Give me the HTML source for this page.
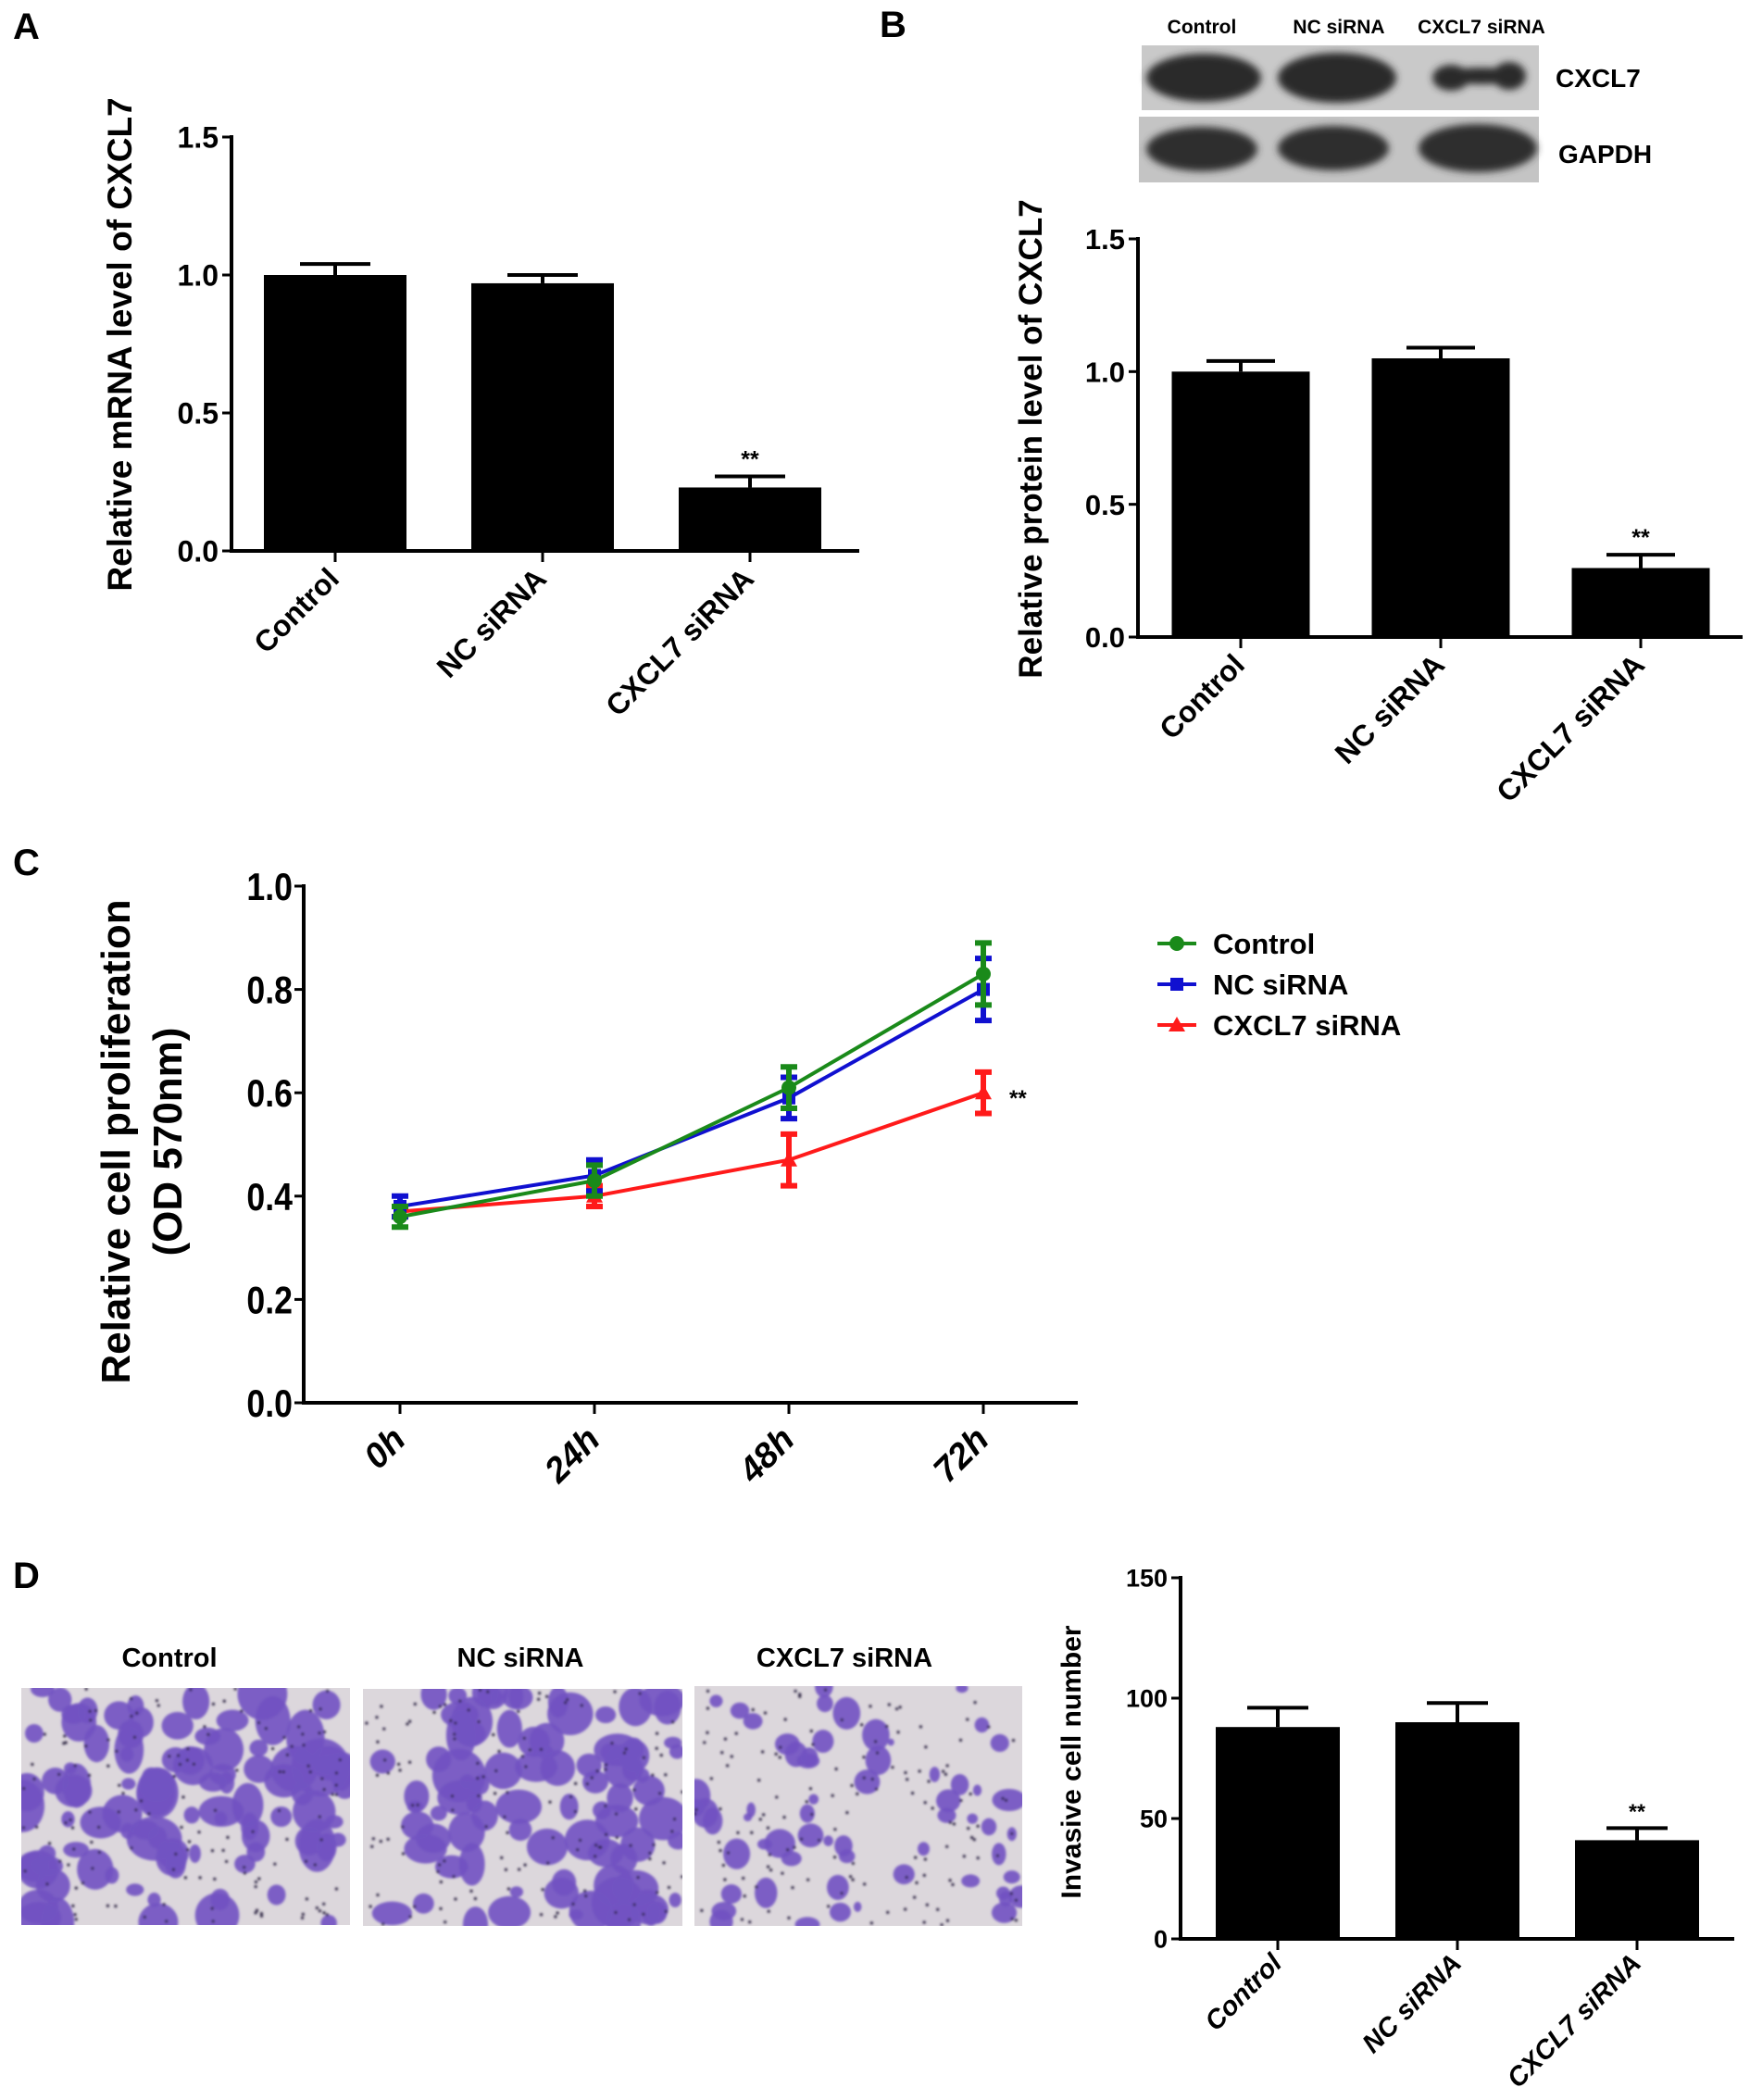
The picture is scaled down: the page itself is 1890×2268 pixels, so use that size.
<!DOCTYPE html>
<html><head><meta charset="utf-8"><style>
html,body{margin:0;padding:0;background:#fff}
svg{display:block}
text{font-family:"Liberation Sans",sans-serif;font-weight:bold;fill:#000}
</style></head><body>
<svg id="fig" width="1890" height="2268" viewBox="0 0 1890 2268" xmlns="http://www.w3.org/2000/svg">
<defs>
<filter id="blur3"><feGaussianBlur stdDeviation="4"/></filter>
<filter id="blur1"><feGaussianBlur stdDeviation="1.2"/></filter>
</defs>
<text x="14" y="42" font-size="40">A</text>
<text x="950" y="40" font-size="40">B</text>
<text x="14" y="945" font-size="40">C</text>
<text x="14" y="1715" font-size="40">D</text>

<g id="blot">
<rect x="1233" y="49" width="429" height="70" fill="#c9c9c9"/>
<rect x="1230" y="126" width="432" height="71" fill="#c4c4c4"/>
<g filter="url(#blur3)">
<ellipse cx="1300" cy="84" rx="62" ry="26" fill="#2b2b2b"/>
<ellipse cx="1444" cy="84" rx="64" ry="27" fill="#2b2b2b"/>
<ellipse cx="1567" cy="84" rx="20" ry="14" fill="#2b2b2b"/>
<ellipse cx="1600" cy="82" rx="40" ry="9" fill="#2b2b2b"/>
<ellipse cx="1630" cy="82" rx="18" ry="15" fill="#2b2b2b"/>
<ellipse cx="1298" cy="161" rx="60" ry="24" fill="#2e2e2e"/>
<ellipse cx="1440" cy="160" rx="60" ry="24" fill="#2e2e2e"/>
<ellipse cx="1596" cy="160" rx="64" ry="26" fill="#2e2e2e"/>
</g>
<text x="1298" y="36" font-size="21" text-anchor="middle">Control</text>
<text x="1446" y="36" font-size="21" text-anchor="middle">NC  siRNA</text>
<text x="1600" y="36" font-size="21" text-anchor="middle">CXCL7 siRNA</text>
<text x="1680" y="94" font-size="28">CXCL7</text>
<text x="1683" y="176" font-size="28">GAPDH</text>
</g>

<g id="micro">
<text x="183" y="1800" font-size="29" text-anchor="middle">Control</text>
<text x="562" y="1800" font-size="29" text-anchor="middle">NC siRNA</text>
<text x="912" y="1800" font-size="29" text-anchor="middle">CXCL7 siRNA</text>
</g>
</svg>
<script>
// ---------- Panel A data ----------
const catsA = ["Control", "NC siRNA", "CXCL7 siRNA"];
const valsA = [1.00, 0.97, 0.23];
const errA = [0.04, 0.03, 0.04];
const ticksA = ["0.0", "0.5", "1.0", "1.5"];
// ---------- Panel B data ----------
const catsB = ["Control", "NC siRNA", "CXCL7 siRNA"];
const valsB = [1.00, 1.05, 0.26];
const errB = [0.04, 0.04, 0.05];
const ticksB = ["0.0", "0.5", "1.0", "1.5"];
// ---------- Panel C data ----------
const timesC = ["0h", "24h", "48h", "72h"];
const seriesNames = ["Control", "NC siRNA", "CXCL7 siRNA"];
const ctrlC = [0.36, 0.43, 0.61, 0.83];
const ctrlErrC = [0.02, 0.03, 0.04, 0.06];
const ncC = [0.38, 0.44, 0.59, 0.80];
const ncErrC = [0.02, 0.03, 0.04, 0.06];
const kdC = [0.37, 0.40, 0.47, 0.60];
const kdErrC = [0.01, 0.02, 0.05, 0.04];
const ticksC = ["0.0", "0.2", "0.4", "0.6", "0.8", "1.0"];
// ---------- Panel D data ----------
const catsD = ["Control", "NC siRNA", "CXCL7 siRNA"];
const valsD = [88, 90, 41];
const errD = [8, 8, 5];
const ticksD = ["0", "50", "100", "150"];

const NS = "http://www.w3.org/2000/svg";
const svg = document.getElementById("fig");
function mk(tag, attrs, parent) {
  const e = document.createElementNS(NS, tag);
  for (const k in attrs) e.setAttribute(k, attrs[k]);
  (parent || svg).appendChild(e);
  return e;
}

function barChart(o) {
  const g = mk("g", {});
  
  
  const y = v => o.y0 - (v - o.vmin) / (o.vmax - o.vmin) * (o.y0 - o.y1);
  const n = o.cats.length;
  o.vals.forEach((v, i) => {
    const cx = o.barX[0] + i * o.barStep;
    const top = y(v);
    const r = mk("rect", {x: cx - o.barW / 2, y: top, width: o.barW, height: o.y0 - top, fill: "#000"}, g);
    
    
    const et = y(v + o.errs[i]);
    const l = mk("line", {x1: cx, x2: cx, y1: top, y2: et, stroke: "#000", "stroke-width": o.sw}, g);
    
    
    const c = mk("line", {x1: cx - o.capW / 2, x2: cx + o.capW / 2, y1: et, y2: et, stroke: "#000", "stroke-width": o.sw}, g);
    
    
    if (i === n - 1) {
      const s = mk("text", {x: cx, y: et - 10, "font-size": o.starSize, "text-anchor": "middle", "font-weight": "normal"}, g);
      s.textContent = "**";
      
      
    }
    const t = mk("line", {x1: cx, x2: cx, y1: o.y0, y2: o.y0 + 12, stroke: "#000", "stroke-width": o.sw - 1}, g);
    
    
    const lx = cx + 6, ly = o.y0 + o.labOff;
    const tx = mk("text", {x: lx, y: ly, "font-size": o.catSize, "text-anchor": "end", transform: `rotate(-45 ${lx} ${ly})`, "font-style": o.italic ? "italic" : "normal"}, g);
    tx.textContent = o.cats[i];
    
    
  });
  const ya = mk("line", {x1: o.x0, x2: o.x0, y1: o.y1 - 2, y2: o.y0 + 2, stroke: "#000", "stroke-width": o.sw}, g);
  
  
  const xa = mk("line", {x1: o.x0 - 2, x2: o.xEnd, y1: o.y0, y2: o.y0, stroke: "#000", "stroke-width": o.sw}, g);
  
  
  o.ticks.forEach(tk => {
    const yy = y(parseFloat(tk));
    const l = mk("line", {x1: o.x0 - 10, x2: o.x0, y1: yy, y2: yy, stroke: "#000", "stroke-width": o.sw - 1}, g);
    
    
    const t = mk("text", {x: o.x0 - 14, y: yy + o.tickSize * 0.36, "font-size": o.tickSize, "text-anchor": "end"}, g);
    t.textContent = tk;
    
    
  });
  const tt = mk("text", {x: o.titleX, y: o.titleY, "font-size": o.titleSize, "text-anchor": "middle", transform: `rotate(-90 ${o.titleX} ${o.titleY})`}, g);
  tt.textContent = o.title;
  
  
}

barChart({name: "chart-a-mrna", cats: catsA, vals: valsA, errs: errA, ticks: ticksA, vmin: 0, vmax: 1.5,
  x0: 250, xEnd: 928, y0: 595, y1: 148, barX: [362], barStep: 224, barW: 154, capW: 76, sw: 4,
  tickSize: 32, catSize: 32, labOff: 32, starSize: 25, title: "Relative mRNA level of CXCL7", titleX: 142, titleY: 372, titleSize: 37});
barChart({name: "chart-b-protein", cats: catsB, vals: valsB, errs: errB, ticks: ticksB, vmin: 0, vmax: 1.5,
  x0: 1229, xEnd: 1882, y0: 688, y1: 258, barX: [1340], barStep: 216, barW: 149, capW: 74, sw: 4,
  tickSize: 31, catSize: 32, labOff: 32, starSize: 25, title: "Relative protein level of CXCL7", titleX: 1125, titleY: 474, titleSize: 35});
barChart({name: "chart-d-invasion", cats: catsD, vals: valsD, errs: errD, ticks: ticksD, vmin: 0, vmax: 150,
  x0: 1275, xEnd: 1873, y0: 2094, y1: 1704, barX: [1380], barStep: 194, barW: 134, capW: 66, sw: 4,
  tickSize: 27, catSize: 29, labOff: 28, starSize: 23, italic: true, title: "Invasive cell number", titleX: 1167, titleY: 1903, titleSize: 30});

// ---------- Panel C line chart ----------
(function () {
  const g = mk("g", {});
  
  
  const x0 = 328, y0 = 1515, y1 = 957, xs0 = 432, xStep = 210;
  const y = v => y0 - v * (y0 - y1);
  const x = i => xs0 + i * xStep;
  const ya = mk("line", {x1: x0, x2: x0, y1: y1 - 2, y2: y0 + 2, stroke: "#000", "stroke-width": 4}, g);
  
  
  const xa = mk("line", {x1: x0 - 2, x2: 1164, y1: y0, y2: y0, stroke: "#000", "stroke-width": 4}, g);
  
  
  ticksC.forEach(tk => {
    const yy = y(parseFloat(tk));
    const l = mk("line", {x1: x0 - 10, x2: x0, y1: yy, y2: yy, stroke: "#000", "stroke-width": 3}, g);
    
    
    const t = mk("text", {x: x0 - 12, y: yy + 15, "font-size": 42, "text-anchor": "end", transform: `translate(${x0 - 12} 0) scale(0.85 1) translate(${-(x0 - 12)} 0)`}, g);
    t.textContent = tk;
    
    
  });
  timesC.forEach((tm, i) => {
    const l = mk("line", {x1: x(i), x2: x(i), y1: y0, y2: y0 + 12, stroke: "#000", "stroke-width": 3}, g);
    
    
    const lx = x(i) + 8, ly = y0 + 42;
    const t = mk("text", {x: lx, y: ly, "font-size": 38, "font-style": "italic", "text-anchor": "end", transform: `rotate(-45 ${lx} ${ly})`}, g);
    t.textContent = tm;
    
    
  });
  const t1 = mk("text", {x: 140, y: 1233, "font-size": 44, "text-anchor": "middle", transform: "rotate(-90 140 1233)"}, g);
  t1.textContent = "Relative cell proliferation";
  
  
  const t2 = mk("text", {x: 196, y: 1233, "font-size": 44, "text-anchor": "middle", transform: "rotate(-90 196 1233)"}, g);
  t2.textContent = "(OD 570nm)";
  
  

  const series = [
    {vals: kdC, errs: kdErrC, color: "#ff1a1a", marker: "tri", name: seriesNames[2]},
    {vals: ncC, errs: ncErrC, color: "#1010d0", marker: "sq", name: seriesNames[1]},
    {vals: ctrlC, errs: ctrlErrC, color: "#1a8a1a", marker: "circ", name: seriesNames[0]}
  ];
  function marker(type, cx, cy, color, parent) {
    let m;
    if (type === "circ") m = mk("circle", {cx: cx, cy: cy, r: 8, fill: color}, parent);
    else if (type === "sq") m = mk("rect", {x: cx - 7, y: cy - 7, width: 14, height: 14, fill: color}, parent);
    else m = mk("polygon", {points: `${cx},${cy - 9} ${cx + 9},${cy + 7} ${cx - 9},${cy + 7}`, fill: color}, parent);
    return m;
  }
  series.forEach(s => {
    const sg = mk("g", {}, g);
    
    
    const pts = s.vals.map((v, i) => `${x(i)},${y(v)}`).join(" ");
    const pl = mk("polyline", {points: pts, fill: "none", stroke: s.color, "stroke-width": 4}, sg);
    
    
    s.vals.forEach((v, i) => {
      const hi = y(v + s.errs[i]), lo = y(v - s.errs[i]);
      const e = mk("path", {d: `M${x(i)},${hi}V${lo}M${x(i) - 9},${hi}H${x(i) + 9}M${x(i) - 9},${lo}H${x(i) + 9}`, stroke: s.color, "stroke-width": 6, fill: "none"}, sg);
      
      
      const m = marker(s.marker, x(i), y(v), s.color, sg);
      
      
    });
  });
  const st = mk("text", {x: 1090, y: y(kdC[3]) + 14, "font-size": 24, "font-weight": "normal"}, g);
  st.textContent = "**";
  
  
  const lg = mk("g", {}, g);
  
  
  [series[2], series[1], series[0]].forEach((s, k) => {
    const ly = 1019 + k * 44;
    const ln = mk("line", {x1: 1250, x2: 1292, y1: ly, y2: ly, stroke: s.color, "stroke-width": 4}, lg);
    
    
    const m = marker(s.marker, 1271, ly, s.color, lg);
    
    
    const t = mk("text", {x: 1310, y: ly + 11, "font-size": 31}, lg);
    t.textContent = s.name;
    
    
  });
})();

// ---------- Micrographs (decorative texture) ----------
(function () {
  const mg = document.getElementById("micro");
  const panels = [
    {x: 23, y: 1823, w: 355, h: 256, n: 95, big: 1.3, name: "micrograph-control"},
    {x: 392, y: 1824, w: 345, h: 256, n: 85, big: 1.2, name: "micrograph-nc-sirna"},
    {x: 750, y: 1821, w: 354, h: 259, n: 60, big: 0.8, name: "micrograph-cxcl7-sirna"}
  ];
  let seed = 12345;
  const rnd = () => { seed = (seed * 16807) % 2147483647; return seed / 2147483647; };
  panels.forEach(p => {
    const g = mk("g", {}, mg);
    
    
    const cid = "clip-" + p.name;
    const cp = mk("clipPath", {id: cid}, g);
    mk("rect", {x: p.x, y: p.y, width: p.w, height: p.h}, cp);
    const bg = mk("rect", {x: p.x, y: p.y, width: p.w, height: p.h, fill: "#dcd7dc"}, g);
    
    
    const inner = mk("g", {"clip-path": `url(#${cid})`, filter: "url(#blur1)"}, g);
    for (let i = 0; i < p.n; i++) {
      const cx = p.x + rnd() * p.w, cy = p.y + rnd() * p.h;
      const r = (5 + rnd() * 13) * p.big;
      mk("ellipse", {cx: cx, cy: cy, rx: r * (0.8 + rnd() * 0.6), ry: r * (0.8 + rnd() * 0.6), fill: "#7152c2", opacity: 0.9}, inner);
    }
    for (let i = 0; i < 140; i++) {
      mk("circle", {cx: p.x + rnd() * p.w, cy: p.y + rnd() * p.h, r: 1.6, fill: "#2a2440"}, inner);
    }
  });
})();
</script>
</body></html>
